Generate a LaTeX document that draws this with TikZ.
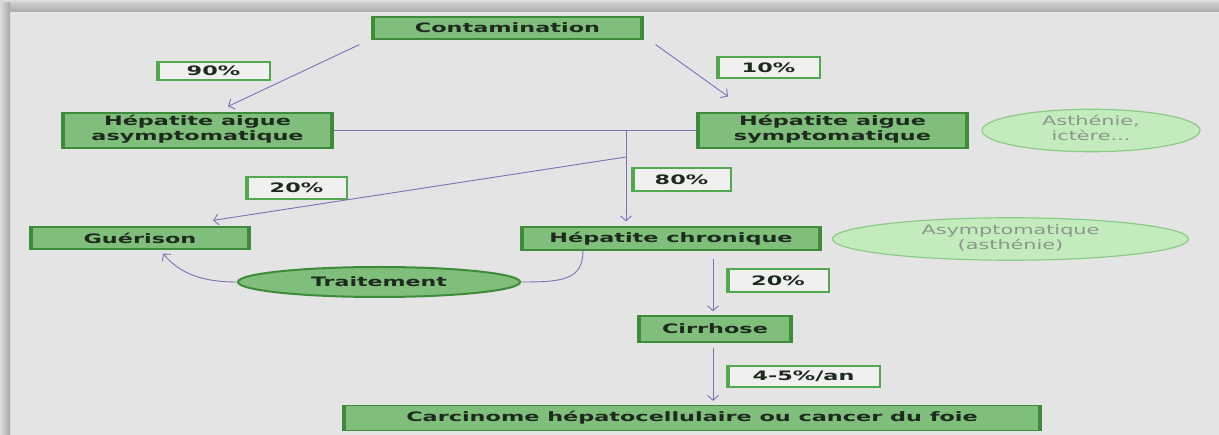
\documentclass[tikz,border=0pt]{standalone}
\usepackage{fontspec}
\setmainfont{DejaVu Sans}
\usepackage{graphicx}
\usetikzlibrary{arrows.meta,shapes.geometric}
\definecolor{bg}{HTML}{E4E4E4}
\definecolor{gfill}{HTML}{7FBF7B}
\definecolor{gdark}{HTML}{3E8B3B}
\definecolor{pgreen}{HTML}{52A84F}
\definecolor{pfill}{HTML}{F0F0F0}
\definecolor{lfill}{HTML}{C4EBBE}
\definecolor{ldraw}{HTML}{8CCB86}
\definecolor{ltext}{HTML}{8A968A}
\definecolor{txt}{HTML}{1E2A1E}
\definecolor{arr}{HTML}{7C72B4}
\definecolor{topline}{HTML}{DCDCDC}
\newcommand{\bx}[1]{\scalebox{1.72}[1]{\bfseries #1}}
\newcommand{\rx}[1]{\scalebox{1.6}[1]{#1}}
\newcommand{\tx}[1]{\scalebox{1.7}[1]{\bfseries #1}}
\begin{document}
\begin{tikzpicture}[x=1pt,y=-1pt,
  gbox/.style={rectangle, fill=gfill, draw=gdark, line width=1.2pt, inner sep=0pt,
    text=txt, font=\fontsize{13}{15}\selectfont, align=center,
    path picture={\fill[gdark] (path picture bounding box.north west) rectangle ([xshift=3pt]path picture bounding box.south west);
                  \fill[gdark] (path picture bounding box.north east) rectangle ([xshift=-3pt]path picture bounding box.south east);}},
  pbox/.style={rectangle, fill=pfill, draw=pgreen, line width=1.6pt, inner sep=0pt,
    text=txt, font=\fontsize{13}{15}\selectfont,
    path picture={\fill[pgreen] (path picture bounding box.north west) rectangle ([xshift=3pt]path picture bounding box.south west);}},
  lell/.style={ellipse, fill=lfill, draw=ldraw, line width=1.2pt, inner sep=0pt,
    text=ltext, font=\fontsize{13}{15}\selectfont, align=center},
  tell/.style={ellipse, fill=gfill, draw=gdark, line width=2pt, inner sep=0pt,
    text=txt, font=\fontsize{13}{15}\selectfont},
  conn/.style={draw=arr, line width=0.9pt},
  arrow/.style={conn, -{Straight Barb[length=5pt,width=11pt]}}
]
% background and frame
\useasboundingbox (0,0) rectangle (1219,435);
\fill[bg] (0,0) rectangle (1219,435);
\fill[topline] (0,0) rectangle (1219,3);
\shade[top color={rgb,255:red,204;green,204;blue,204}, bottom color={rgb,255:red,168;green,168;blue,168}] (0,3) rectangle (1219,12);
\shade[left color={rgb,255:red,220;green,220;blue,220}, right color={rgb,255:red,168;green,168;blue,168}] (0,3) rectangle (10,435);

% nodes
\node[gbox, minimum width=271, minimum height=22] (cont) at (507.5,28) {\bx{Contamination}};
\node[gbox, minimum width=271, minimum height=35] (haa) at (197.5,130.5)
  {\bx{\begin{tabular}{@{}c@{}}Hépatite aigue\\asymptomatique\end{tabular}}};
\node[gbox, minimum width=271, minimum height=35] (has) at (832.5,130.5)
  {\bx{\begin{tabular}{@{}c@{}}Hépatite aigue\\symptomatique\end{tabular}}};
\node[lell, minimum width=218, minimum height=35] (e1) at (1091,130.5)
  {\rx{\begin{tabular}{@{}c@{}}Asthénie,\\ictère...\end{tabular}}};
\node[gbox, minimum width=220, minimum height=22] (gue) at (140,238) {\bx{Guérison}};
\node[gbox, minimum width=300, minimum height=23] (hc) at (671,238.5) {\bx{Hépatite chronique}};
\node[lell, minimum width=356, minimum height=26] (e2) at (1010.5,239)
  {\rx{\begin{tabular}{@{}c@{}}Asymptomatique\\(asthénie)\end{tabular}}};
\node[tell, minimum width=282, minimum height=30] (trait) at (379,282) {\tx{Traitement}};
\node[gbox, minimum width=154, minimum height=26] (cirr) at (715,329) {\bx{Cirrhose}};
\node[gbox, minimum width=698, minimum height=25] (carc) at (692,418)
  {\bx{Carcinome hépatocellulaire ou cancer du foie}};

% percentage labels
\node[pbox, minimum width=113, minimum height=18] (p90) at (213.5,71) {\bx{90\%}};
\node[pbox, minimum width=103, minimum height=21] (p10) at (768.5,67.5) {\bx{10\%}};
\node[pbox, minimum width=101, minimum height=22] (p20a) at (296.5,188) {\bx{20\%}};
\node[pbox, minimum width=99, minimum height=23] (p80) at (681.5,179.5) {\bx{80\%}};
\node[pbox, minimum width=102, minimum height=23] (p20b) at (778,280.5) {\bx{20\%}};
\node[pbox, minimum width=153, minimum height=21] (p45) at (803.5,376.5) {\bx{4-5\%/an}};

% connectors
\coordinate (j1) at (626,131);
\coordinate (j2) at (626,157);
\draw[arrow] ([shift={(-12,5)}]cont.south west) -- ([shift={(30.5,-6)}]haa.north);
\draw[arrow] ([shift={(12,5)}]cont.south east) -- ([shift={(-104.5,-16)}]has.north);
\draw[conn] (haa.east) -- (has.west);
\draw[arrow, shorten >=5pt] (j1) -- (j1 |- hc.north);
\draw[arrow] (j2) -- ([shift={(73,-6)}]gue.north);
\draw[conn] ([xshift=-88]hc.south) .. controls ([shift={(-88,30)}]hc.south) and ([xshift=40]trait.east) .. (trait.east);
\draw[arrow] (trait.west) .. controls ([xshift=-35]trait.west) and ([shift={(40,24)}]gue.south) .. ([shift={(23,4)}]gue.south);
\draw[arrow, shorten <=8pt, shorten >=4pt] ([xshift=-2]cirr.north |- hc.south) -- ([xshift=-2]cirr.north);
\draw[arrow, shorten <=5pt, shorten >=4pt] ([xshift=-2]cirr.south) -- ([xshift=-2]cirr.south |- carc.north);
\end{tikzpicture}
\end{document}
